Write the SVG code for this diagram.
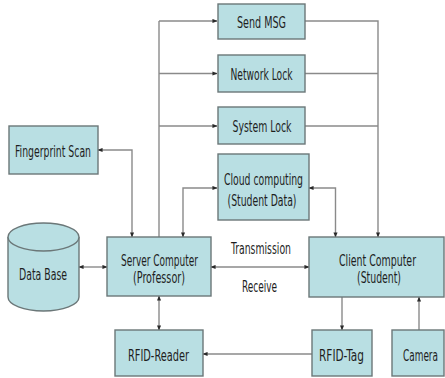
<svg xmlns="http://www.w3.org/2000/svg" width="445" height="378" viewBox="0 0 445 378">
  <defs>
    <style>
      .box { fill: #b9dfe3; stroke: #6b7778; stroke-width: 1.4; }
      .lbl { font-family: "Liberation Sans Narrow", "DejaVu Sans Condensed", "Liberation Sans", sans-serif; font-size: 16px; fill: #1e1e1e; text-anchor: middle; }
      .wire { fill: none; stroke: #8a8a8a; stroke-width: 1.4; }
    </style>
    <marker id="tip" viewBox="0 0 6 6" refX="5.5" refY="3" markerWidth="5" markerHeight="5" orient="auto-start-reverse" markerUnits="userSpaceOnUse">
      <path d="M0,0.5 L6,3 L0,5.5 z" fill="#2a2a2a"/>
    </marker>
  </defs>
  <rect width="445" height="378" fill="#ffffff"/>

  <g id="connectors">
    <!-- left trunk feeding the three action boxes -->
    <path class="wire" d="M159,237 V21"/>
    <path class="wire" d="M159,21 H217" marker-end="url(#tip)"/>
    <path class="wire" d="M159,73.5 H217" marker-end="url(#tip)"/>
    <path class="wire" d="M159,126 H217" marker-end="url(#tip)"/>
    <!-- right trunk collecting into the client -->
    <path class="wire" d="M305,21 H378 V237" marker-end="url(#tip)"/>
    <path class="wire" d="M305,73.5 H378"/>
    <path class="wire" d="M305,126 H378"/>
    <!-- fingerprint scan -->
    <path class="wire" d="M132,237 V150 H98" marker-start="url(#tip)" marker-end="url(#tip)"/>
    <!-- cloud computing links -->
    <path class="wire" d="M183,237 V188 H217" marker-start="url(#tip)" marker-end="url(#tip)"/>
    <path class="wire" d="M309,188 H335.5 V237" marker-start="url(#tip)" marker-end="url(#tip)"/>
    <!-- data base and transmission -->
    <path class="wire" d="M79,267 H107" marker-start="url(#tip)" marker-end="url(#tip)"/>
    <path class="wire" d="M211,267 H309" marker-start="url(#tip)" marker-end="url(#tip)"/>
    <!-- RFID chain -->
    <path class="wire" d="M159,296 V330" marker-start="url(#tip)" marker-end="url(#tip)"/>
    <path class="wire" d="M312,354 H203" marker-end="url(#tip)"/>
    <path class="wire" d="M342,297 V330" marker-end="url(#tip)"/>
    <path class="wire" d="M419,330 V297" marker-end="url(#tip)"/>
  </g>

  <g id="send-msg">
    <rect class="box" x="218" y="4" width="87" height="35"/>
    <text class="lbl" x="261.5" y="28" textLength="49" lengthAdjust="spacingAndGlyphs">Send MSG</text>
  </g>
  <g id="network-lock">
    <rect class="box" x="218" y="55" width="87" height="37"/>
    <text class="lbl" x="261.5" y="80" textLength="62" lengthAdjust="spacingAndGlyphs">Network Lock</text>
  </g>
  <g id="system-lock">
    <rect class="box" x="218" y="107" width="87" height="37"/>
    <text class="lbl" x="262" y="132" textLength="59" lengthAdjust="spacingAndGlyphs">System Lock</text>
  </g>
  <g id="cloud-computing">
    <rect class="box" x="218" y="154" width="91" height="66"/>
    <text class="lbl" x="263.5" y="185" textLength="79" lengthAdjust="spacingAndGlyphs">Cloud computing</text>
    <text class="lbl" x="262" y="206" textLength="69" lengthAdjust="spacingAndGlyphs">(Student Data)</text>
  </g>
  <g id="fingerprint-scan">
    <rect class="box" x="9" y="126" width="89" height="48"/>
    <text class="lbl" x="53" y="157" textLength="76" lengthAdjust="spacingAndGlyphs">Fingerprint Scan</text>
  </g>
  <g id="data-base">
    <path class="box" d="M8,237 V297 A35.5,14 0 0 0 79,297 V237"/>
    <ellipse class="box" cx="43.5" cy="237" rx="35.5" ry="14"/>
    <text class="lbl" x="43" y="280" textLength="48" lengthAdjust="spacingAndGlyphs">Data Base</text>
  </g>
  <g id="server-computer">
    <rect class="box" x="107" y="237" width="104" height="59"/>
    <text class="lbl" x="159.5" y="266" textLength="77" lengthAdjust="spacingAndGlyphs">Server Computer</text>
    <text class="lbl" x="159" y="283" textLength="52" lengthAdjust="spacingAndGlyphs">(Professor)</text>
  </g>
  <g id="transmission-labels">
    <text class="lbl" x="261" y="254" textLength="60" lengthAdjust="spacingAndGlyphs">Transmission</text>
    <text class="lbl" x="259.5" y="292" textLength="35" lengthAdjust="spacingAndGlyphs">Receive</text>
  </g>
  <g id="client-computer">
    <rect class="box" x="309" y="237" width="135" height="60"/>
    <text class="lbl" x="377.5" y="266" textLength="77" lengthAdjust="spacingAndGlyphs">Client Computer</text>
    <text class="lbl" x="379" y="283" textLength="44" lengthAdjust="spacingAndGlyphs">(Student)</text>
  </g>
  <g id="rfid-reader">
    <rect class="box" x="115" y="330" width="88" height="46"/>
    <text class="lbl" x="158.5" y="361" textLength="61" lengthAdjust="spacingAndGlyphs">RFID-Reader</text>
  </g>
  <g id="rfid-tag">
    <rect class="box" x="312" y="330" width="60" height="46"/>
    <text class="lbl" x="341.5" y="361" textLength="45" lengthAdjust="spacingAndGlyphs">RFID-Tag</text>
  </g>
  <g id="camera">
    <rect class="box" x="392" y="330" width="52" height="46"/>
    <text class="lbl" x="420.5" y="361" textLength="35" lengthAdjust="spacingAndGlyphs">Camera</text>
  </g>
</svg>
